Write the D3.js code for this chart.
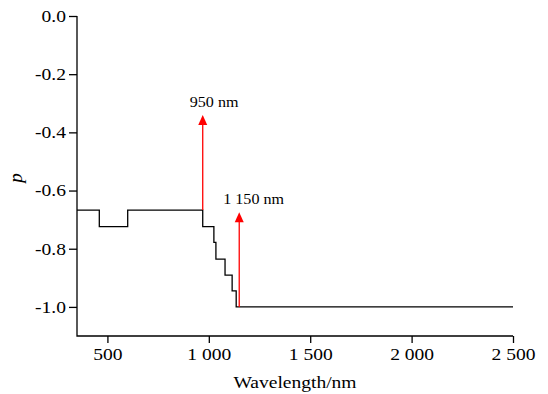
<!DOCTYPE html>
<html>
<head>
<meta charset="utf-8">
<script src="https://cdn.jsdelivr.net/npm/d3@7"></script>
<style>
  body { margin: 0; background: #fff; }
  svg text { font-family: "Liberation Serif", "Times New Roman", serif; fill: #000; }
</style>
</head>
<body>
<div id="chart"></div>
<script>
// step curve: wavelength where each level begins, and its p value
var wavelengths = [350, 460, 600, 970, 1025, 1035, 1080, 1115, 1135, 2500];
var pValues     = [-0.667, -0.724, -0.667, -0.724, -0.778, -0.836, -0.891, -0.945, -1.0, -1.0];

// red arrows
var arrowWl     = [970, 1150];
var arrowBase   = [-0.667, -1.0];
var arrowTip    = [-0.34, -0.675];
var arrowLabels = ["950 nm", "1 150 nm"];

var xTicks = [500, 1000, 1500, 2000, 2500];
var yTicks = [0, -0.2, -0.4, -0.6, -0.8, -1.0];

var width = 548, height = 394;
var margin = {top: 16, right: 35, bottom: 58, left: 77};
var stretch = 1.15; // reference text is a bit wide

var locale = d3.formatLocale({decimal: ".", thousands: " ", grouping: [3], currency: ["", ""], minus: "-"});
var xFmt = locale.format(",");
var yFmt = locale.format(".1f");

var svg = d3.select("#chart").append("svg")
    .attr("width", width)
    .attr("height", height);

var x = d3.scaleLinear()
    .domain([350, 2500])
    .range([margin.left, width - margin.right]);

var y = d3.scaleLinear()
    .domain([-1.1, 0])
    .range([height - margin.bottom, margin.top]);

var xAxis = svg.append("g")
    .attr("transform", "translate(0," + (height - margin.bottom) + ")")
    .call(d3.axisBottom(x).tickValues(xTicks).tickFormat(xFmt)
        .tickSizeInner(7).tickSizeOuter(0).tickPadding(5));

var yAxis = svg.append("g")
    .attr("transform", "translate(" + margin.left + ",0)")
    .call(d3.axisLeft(y).tickValues(yTicks).tickFormat(yFmt)
        .tickSizeInner(8).tickSizeOuter(0).tickPadding(3));

svg.selectAll(".domain").remove();
svg.selectAll(".tick line").attr("stroke", "#000").attr("stroke-width", 1.3);
svg.selectAll(".tick text").attr("font-size", 17);
xAxis.selectAll(".tick text").attr("transform", "scale(" + stretch + ",1)");
yAxis.selectAll(".tick text").attr("transform", "scale(" + stretch + ",1)").attr("x", -11 / stretch);

// axis lines
svg.append("path")
    .attr("fill", "none")
    .attr("stroke", "#000")
    .attr("stroke-width", 1.3)
    .attr("d", "M" + x(2500) + "," + y(-1.1) + "H" + x(350) + "V" + y(0));

// axis titles
svg.append("text")
    .attr("transform", "translate(" + (margin.left + (width - margin.left - margin.right) / 2) + ",388) scale(" + stretch + ",1)")
    .attr("text-anchor", "middle")
    .attr("font-size", 17)
    .text("Wavelength/nm");

svg.append("text")
    .attr("transform", "translate(22,178) rotate(-90)")
    .attr("text-anchor", "middle")
    .attr("font-size", 19)
    .attr("font-style", "italic")
    .text("p");

// curve
var pts = wavelengths.map(function(w, i){ return [w, pValues[i]]; });
var line = d3.line()
    .x(function(d){ return x(d[0]); })
    .y(function(d){ return y(d[1]); })
    .curve(d3.curveStepAfter);

svg.append("path")
    .datum(pts)
    .attr("fill", "none")
    .attr("stroke", "#000")
    .attr("stroke-width", 1.3)
    .attr("d", line);

// arrows
var arrows = arrowWl.map(function(w, i){
    return {w: w, base: arrowBase[i], tip: arrowTip[i], label: arrowLabels[i]};
});

var ag = svg.selectAll("g.arrow")
    .data(arrows)
    .enter()
    .append("g")
    .attr("class", "arrow");

ag.append("line")
    .attr("x1", function(d){ return x(d.w); })
    .attr("x2", function(d){ return x(d.w); })
    .attr("y1", function(d){ return y(d.base); })
    .attr("y2", function(d){ return y(d.tip) + 6; })
    .attr("stroke", "#f00")
    .attr("stroke-width", 1.3);

ag.append("path")
    .attr("fill", "#f00")
    .attr("d", function(d){
        var ax = x(d.w), ay = y(d.tip);
        return "M" + ax + "," + ay + "L" + (ax - 4.5) + "," + (ay + 10) + "L" + (ax + 4.5) + "," + (ay + 10) + "Z";
    });

ag.append("text")
    .attr("transform", function(d, i){
        var off = i === 0 ? -13 : -16;
        return "translate(" + (x(d.w) + off) + "," + (y(d.tip) - 8) + ") scale(" + stretch + ",1)";
    })
    .attr("font-size", 14)
    .text(function(d){ return d.label; });
</script>
</body>
</html>
